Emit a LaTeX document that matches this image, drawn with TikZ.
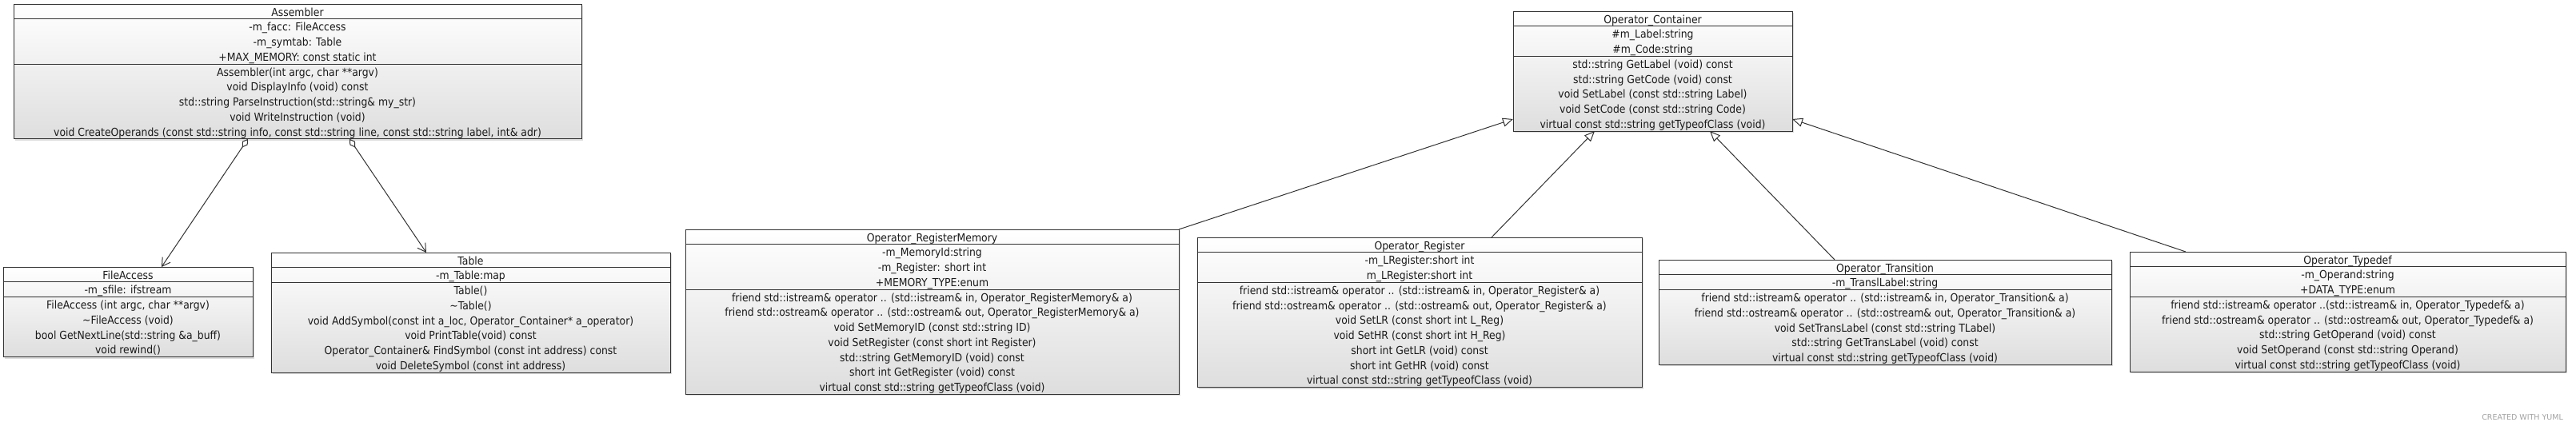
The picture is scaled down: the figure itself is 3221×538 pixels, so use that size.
\documentclass[tikz,border=0pt]{standalone}
\usepackage{fontspec}
\setmainfont{DejaVu Sans}[FakeStretch=0.9]
\newfontfamily\wmfont{DejaVu Sans}
\usetikzlibrary{arrows.meta,shadows,calc}
\definecolor{linecol}{HTML}{333333}
\definecolor{txtcol}{HTML}{1A1A1A}
\definecolor{wmcol}{HTML}{A0A0A0}
\def\rh{18.75}
\def\basey{15}
\tikzset{
  classbox/.style={draw=linecol, line width=1pt, inner sep=0pt, outer sep=0pt,
    top color=white, bottom color=black!13,
    drop shadow={shadow xshift=2pt, shadow yshift=-2pt, opacity=0.22, fill=black!60}},
  sepline/.style={draw=linecol, line width=1pt},
  rowtext/.style={font=\fontsize{13.8}{16}\selectfont, text=txtcol, inner sep=0pt, anchor=base},
  conn/.style={draw=linecol, line width=1pt},
  aggr/.style={conn, {Diamond[open, length=13pt, width=8pt]}-{Straight Barb[length=10pt, width=12pt]}},
  inher/.style={conn, -{Triangle[open, length=13pt, width=11pt]}},
}
% #1 name, #2 x1, #3 y1, #4 x2, #5 n attrs, #6 n methods, #7 title, #8 attrs, #9 methods
\newcommand\umlclass[9]{%
  \pgfmathsetmacro\bw{#4-#2}%
  \pgfmathsetmacro\bh{(1+#5+#6)*\rh}%
  \node[classbox, minimum width=\bw pt, minimum height=\bh pt, anchor=north west] (#1) at (#2,-#3) {};
  \draw[sepline] ([yshift=-\rh pt]#1.north west) -- ([yshift=-\rh pt]#1.north east);
  \pgfmathsetmacro\sy{(1+#5)*\rh}%
  \draw[sepline] ([yshift=-\sy pt]#1.north west) -- ([yshift=-\sy pt]#1.north east);
  \node[rowtext] at ([yshift=-\basey pt]#1.north) {#7};
  \foreach \t [count=\i] in {#8} {%
    \pgfmathsetmacro\yy{\i*\rh+\basey}%
    \node[rowtext] at ([yshift=-\yy pt]#1.north) {\t};}
  \foreach \t [count=\i] in {#9} {%
    \pgfmathsetmacro\yy{(\i+#5)*\rh+\basey}%
    \node[rowtext] at ([yshift=-\yy pt]#1.north) {\t};}
}
\begin{document}
\begin{tikzpicture}[x=1pt,y=1pt]
\useasboundingbox (0,0) rectangle (3221,-538);

\umlclass{asm}{17}{5}{727}{3}{5}{Assembler}
 {-m\_facc: FileAccess,-m\_symtab: Table,+MAX\_MEMORY: const static int}
 {{Assembler(int argc, char **argv)},void DisplayInfo (void) const,std::string ParseInstruction(std::string\& my\_str),void WriteInstruction (void),{void CreateOperands (const std::string info, const std::string line, const std::string label, int\& adr)}}

\umlclass{fa}{4}{334}{316}{1}{4}{FileAccess}
 {-m\_sfile: ifstream}
 {{FileAccess (int argc, char **argv)},\textasciitilde FileAccess (void),bool GetNextLine(std::string \&a\_buff),void rewind()}

\umlclass{tab}{339}{316}{838}{1}{6}{Table}
 {-m\_Table:map}
 {Table(),\textasciitilde Table(),{void AddSymbol(const int a\_loc, Operator\_Container* a\_operator)},void PrintTable(void) const,Operator\_Container\& FindSymbol (const int address) const,void DeleteSymbol (const int address)}

\umlclass{cont}{1892}{14}{2241}{2}{5}{Operator\_Container}
 {\#m\_Label:string,\#m\_Code:string}
 {std::string GetLabel (void) const,std::string GetCode (void) const,void SetLabel (const std::string Label),void SetCode (const std::string Code),virtual const std::string getTypeofClass (void)}

\umlclass{rm}{857}{287}{1474}{3}{7}{Operator\_RegisterMemory}
 {-m\_MemoryId:string,-m\_Register: short int,+MEMORY\_TYPE:enum}
 {{friend std::istream\& operator .. (std::istream\& in, Operator\_RegisterMemory\& a)},{friend std::ostream\& operator .. (std::ostream\& out, Operator\_RegisterMemory\& a)},void SetMemoryID (const std::string ID),void SetRegister (const short int Register),std::string GetMemoryID (void) const,short int GetRegister (void) const,virtual const std::string getTypeofClass (void)}

\umlclass{reg}{1497}{297}{2053}{2}{7}{Operator\_Register}
 {-m\_LRegister:short int,m\_LRegister:short int}
 {{friend std::istream\& operator .. (std::istream\& in, Operator\_Register\& a)},{friend std::ostream\& operator .. (std::ostream\& out, Operator\_Register\& a)},void SetLR (const short int L\_Reg),void SetHR (const short int H\_Reg),short int GetLR (void) const,short int GetHR (void) const,virtual const std::string getTypeofClass (void)}

\umlclass{tr}{2074}{325}{2640}{1}{5}{Operator\_Transition}
 {-m\_TranslLabel:string}
 {{friend std::istream\& operator .. (std::istream\& in, Operator\_Transition\& a)},{friend std::ostream\& operator .. (std::ostream\& out, Operator\_Transition\& a)},void SetTransLabel (const std::string TLabel),std::string GetTransLabel (void) const,virtual const std::string getTypeofClass (void)}

\umlclass{td}{2663}{315}{3208}{2}{5}{Operator\_Typedef}
 {-m\_Operand:string,+DATA\_TYPE:enum}
 {{friend std::istream\& operator ..(std::istream\& in, Operator\_Typedef\& a)},{friend std::ostream\& operator .. (std::ostream\& out, Operator\_Typedef\& a)},std::string GetOperand (void) const,void SetOperand (const std::string Operand),virtual const std::string getTypeofClass (void)}

% aggregation connectors
\coordinate (a1) at ($(asm.south west)+(293,0)$);
\coordinate (a2) at ($(asm.south west)+(420,0)$);
\coordinate (f1) at ($(fa.north west)+(198,0)$);
\coordinate (t1) at ($(tab.north west)+(194,0)$);
\draw[aggr] (a1) -- (f1);
\draw[aggr] (a2) -- (t1);

% inheritance connectors
\coordinate (cl) at ($(cont.north west)+(0,-135)$);
\coordinate (cr) at ($(cont.north east)+(0,-135)$);
\coordinate (cb1) at ($(cont.south west)+(102,0)$);
\coordinate (cb2) at ($(cont.south west)+(246,0)$);
\coordinate (r1) at ($(reg.north west)+(368,0)$);
\coordinate (tr1) at ($(tr.north west)+(220,0)$);
\coordinate (td1) at ($(td.north west)+(70,0)$);
\draw[inher] (rm.north east) -- (cl);
\draw[inher] (r1) -- (cb1);
\draw[inher] (tr1) -- (cb2);
\draw[inher] (td1) -- (cr);

\node[font=\wmfont\fontsize{9.5}{11}\selectfont, text=wmcol, inner sep=0pt, anchor=base east] (wm) at (3205,-525) {CREATED WITH YUML};
\end{tikzpicture}
\end{document}
